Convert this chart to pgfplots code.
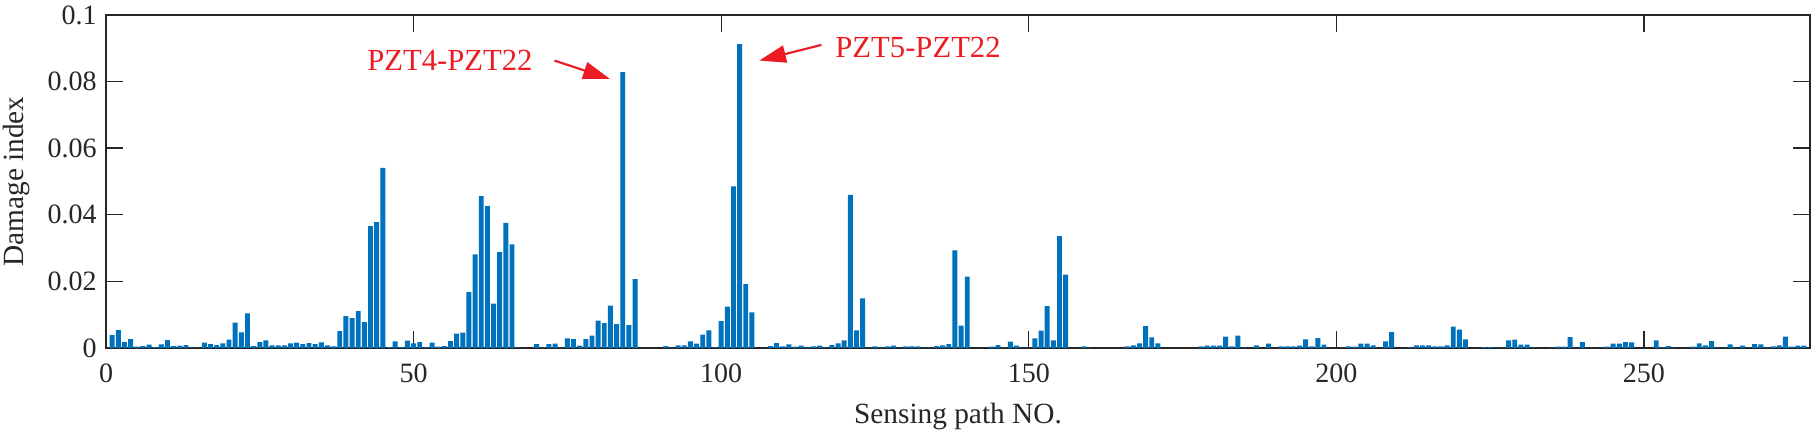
\documentclass[border=0pt]{standalone}
\usepackage{pgfplots}
\pgfplotsset{compat=1.18}
\usepackage{fontspec}
\setmainfont{Liberation Serif}
\usetikzlibrary{arrows.meta}
\definecolor{mblue}{RGB}{0,114,189}
\definecolor{axgray}{RGB}{38,38,38}
\definecolor{annred}{RGB}{237,28,36}
\begin{document}
\begin{tikzpicture}
\path[use as bounding box] (-39.75bp,-33.75bp) rectangle (641.25bp,130.5bp);
\begin{axis}[
  ybar, bar width=0.8,
  at={(0,0)}, anchor=south west,
  scale only axis, width=639bp, height=124.9bp,
  xmin=0, xmax=277, ymin=0, ymax=0.1,
  xtick={0,50,100,150,200,250},
  ytick={0,0.02,0.04,0.06,0.08,0.1},
  tick align=inside, xtick align=inside, ytick align=inside,
  tick pos=both,
  major tick length=6.4bp,
  axis line style={axgray, line width=0.5bp},
  tick style={axgray, line width=0.5bp},
  ticklabel style={axgray, font=\fontsize{10.5bp}{12bp}\selectfont},
  /pgf/number format/assume math mode=true,
  yticklabel style={/pgf/number format/fixed, /pgf/number format/precision=2},
  xticklabel style={yshift=-2.5bp},
  scaled y ticks=false,
  xlabel={Sensing path NO.},
  ylabel={Damage index},
  label style={axgray, font=\fontsize{11bp}{13bp}\selectfont},
  xlabel style={at={(axis description cs:0.5,-0.207)}, anchor=center},
  ylabel style={at={(axis description cs:-0.0523,0.5)}, anchor=center},
]
\addplot[fill=mblue, draw=none] coordinates {
(1,0.0039) (2,0.0054) (3,0.0018) (4,0.0027) (5,0.0004) (6,0.0006) (7,0.0010) (8,0.0003) (9,0.0011) (10,0.0024)
(11,0.0006) (12,0.0007) (13,0.0009) (14,0.0001) (15,0.0001) (16,0.0016) (17,0.0012) (18,0.0009) (19,0.0014) (20,0.0025)
(21,0.0076) (22,0.0047) (23,0.0104) (24,0.0006) (25,0.0018) (26,0.0023) (27,0.0008) (28,0.0008) (29,0.0008) (30,0.0014)
(31,0.0016) (32,0.0012) (33,0.0015) (34,0.0012) (35,0.0017) (36,0.0008) (37,0.0005) (38,0.0051) (39,0.0096) (40,0.0090)
(41,0.0111) (42,0.0078) (43,0.0366) (44,0.0378) (45,0.0541) (46,0.0003) (47,0.0020) (48,0.0003) (49,0.0022) (50,0.0014)
(51,0.0018) (52,0.0002) (53,0.0016) (54,0.0004) (55,0.0006) (56,0.0021) (57,0.0043) (58,0.0046) (59,0.0168) (60,0.0281)
(61,0.0456) (62,0.0427) (63,0.0133) (64,0.0288) (65,0.0376) (66,0.0311) (67,0.0001) (68,0) (69,0) (70,0.0012)
(71,0.0002) (72,0.0012) (73,0.0013) (74,0.0001) (75,0.0029) (76,0.0027) (77,0.0007) (78,0.0027) (79,0.0037) (80,0.0082)
(81,0.0075) (82,0.0127) (83,0.0072) (84,0.0828) (85,0.0069) (86,0.0207) (87,0) (88,0) (89,0) (90,0)
(91,0.0006) (92,0.0001) (93,0.0008) (94,0.0008) (95,0.0020) (96,0.0013) (97,0.0040) (98,0.0053) (99,0.0002) (100,0.0081)
(101,0.0124) (102,0.0485) (103,0.0912) (104,0.0192) (105,0.0107) (106,0) (107,0) (108,0.0006) (109,0.0015) (110,0.0005)
(111,0.0011) (112,0.0004) (113,0.0007) (114,0.0002) (115,0.0005) (116,0.0007) (117,0.0001) (118,0.0009) (119,0.0014) (120,0.0023)
(121,0.0460) (122,0.0053) (123,0.0149) (124,0.0001) (125,0.0005) (126,0.0002) (127,0.0005) (128,0.0007) (129,0.0001) (130,0.0005)
(131,0.0005) (132,0.0005) (133,0.0001) (134,0.0001) (135,0.0006) (136,0.0008) (137,0.0012) (138,0.0293) (139,0.0067) (140,0.0214)
(141,0) (142,0) (143,0) (144,0.0004) (145,0.0009) (146,0.0001) (147,0.0019) (148,0.0007) (149,0.0001) (150,0.0001)
(151,0.0029) (152,0.0052) (153,0.0126) (154,0.0023) (155,0.0336) (156,0.0220) (157,0) (158,0) (159,0.0005) (160,0.0001)
(161,0) (162,0) (163,0) (164,0) (165,0) (166,0.0005) (167,0.0008) (168,0.0014) (169,0.0066) (170,0.0032)
(171,0.0014) (172,0) (173,0) (174,0) (175,0) (176,0) (177,0) (178,0.0005) (179,0.0007) (180,0.0007)
(181,0.0007) (182,0.0034) (183,0.0005) (184,0.0037) (185,0.0001) (186,0) (187,0.0008) (188,0) (189,0.0013) (190,0)
(191,0.0005) (192,0.0005) (193,0.0005) (194,0.0007) (195,0.0026) (196,0.0005) (197,0.0030) (198,0.0010) (199,0) (200,0)
(201,0.0001) (202,0.0005) (203,0.0004) (204,0.0013) (205,0.0013) (206,0.0008) (207,0) (208,0.0020) (209,0.0048) (210,0)
(211,0) (212,0.0002) (213,0.0008) (214,0.0008) (215,0.0008) (216,0.0005) (217,0.0005) (218,0.0008) (219,0.0064) (220,0.0055)
(221,0.0026) (222,0) (223,0) (224,0.0003) (225,0.0003) (226,0.0001) (227,0.0001) (228,0.0023) (229,0.0025) (230,0.0010)
(231,0.0010) (232,0.0001) (233,0) (234,0) (235,0.0001) (236,0.0004) (237,0.0004) (238,0.0033) (239,0.0001) (240,0.0018)
(241,0) (242,0) (243,0.0001) (244,0.0004) (245,0.0013) (246,0.0013) (247,0.0018) (248,0.0017) (249,0) (250,0)
(251,0) (252,0.0023) (253,0.0002) (254,0.0006) (255,0.0001) (256,0) (257,0) (258,0.0004) (259,0.0014) (260,0.0008)
(261,0.0021) (262,0.0001) (263,0.0001) (264,0.0011) (265,0.0001) (266,0.0007) (267,0.0001) (268,0.0012) (269,0.0011) (270,0.0001)
(271,0.0005) (272,0.0008) (273,0.0034) (274,0.0004) (275,0.0007) (276,0.0007)
};
\draw[annred, line width=0.8bp, -{Triangle[length=10bp,width=6.5bp]}] (axis cs:72.9,0.0863) -- (axis cs:81.9,0.0808);
\draw[annred, line width=0.8bp, -{Triangle[length=10bp,width=6.5bp]}] (axis cs:116.3,0.0910) -- (axis cs:106.2,0.0863);
\node[annred, font=\fontsize{11.5bp}{13bp}\selectfont, inner sep=0pt] at (axis cs:55.9,0.0865) {PZT4-PZT22};
\node[annred, font=\fontsize{11.5bp}{13bp}\selectfont, inner sep=0pt] at (axis cs:132.0,0.0902) {PZT5-PZT22};
\end{axis}
\end{tikzpicture}
\end{document}
